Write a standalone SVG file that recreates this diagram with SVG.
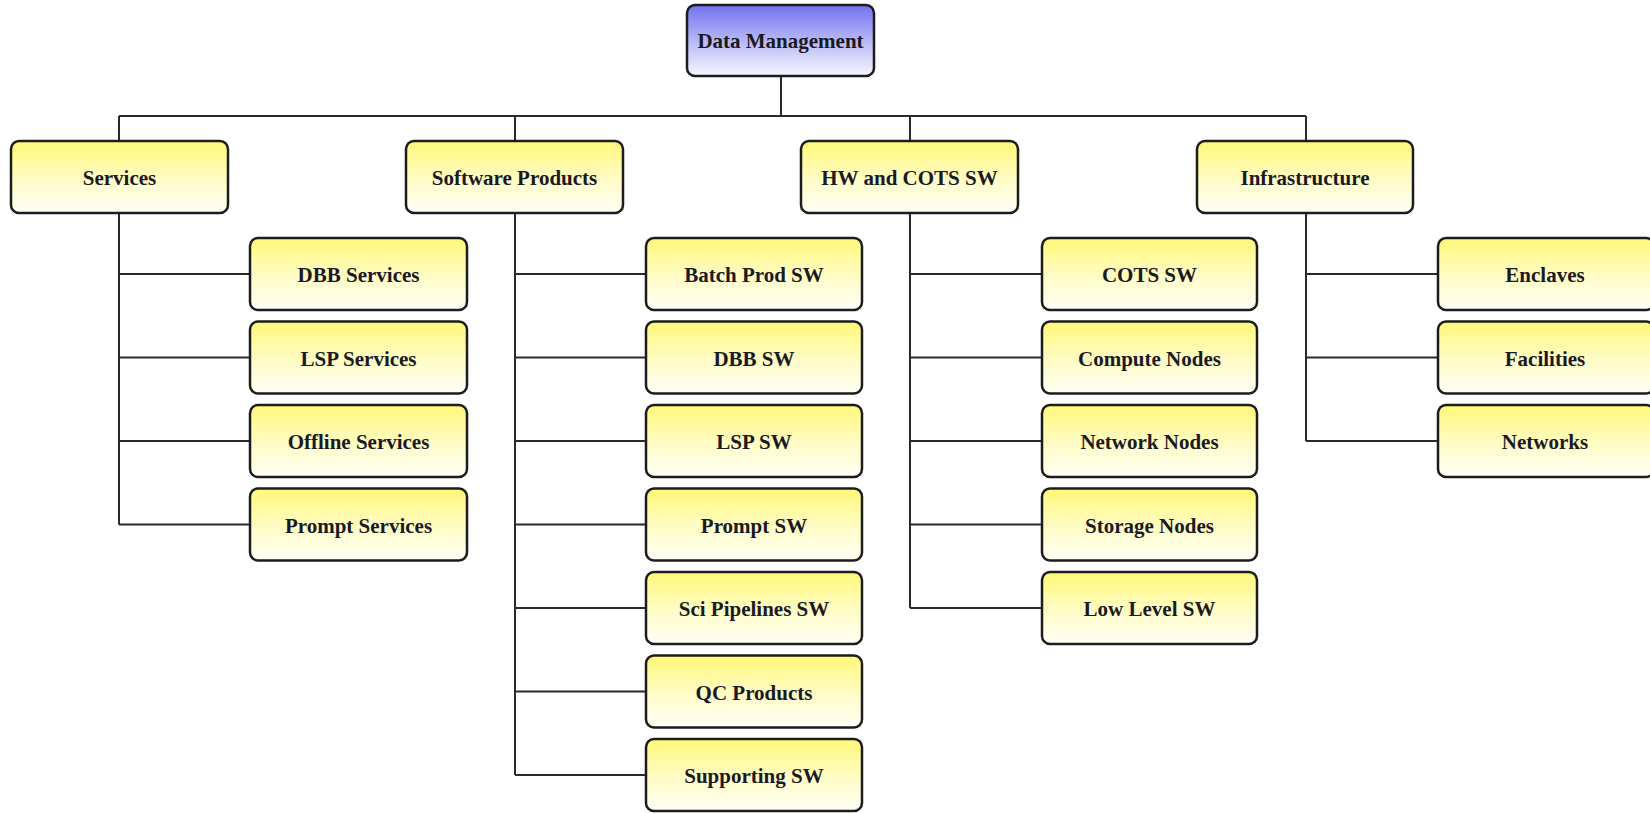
<svg xmlns="http://www.w3.org/2000/svg" width="1650" height="813" viewBox="0 0 1650 813">
  <defs>
    <linearGradient id="gradYellow" x1="0" y1="0" x2="0" y2="1">
      <stop offset="0" stop-color="#FFF877"/>
      <stop offset="0.55" stop-color="#FFFCC8"/>
      <stop offset="1" stop-color="#FFFFF6"/>
    </linearGradient>
    <linearGradient id="gradBlue" x1="0" y1="0" x2="0" y2="1">
      <stop offset="0" stop-color="#7272EE"/>
      <stop offset="0.6" stop-color="#C4C4F8"/>
      <stop offset="1" stop-color="#F6F6FF"/>
    </linearGradient>
    <style>
      .box { fill: url(#gradYellow); stroke: #1c1c1c; stroke-width: 2.5; }
      .root { fill: url(#gradBlue); stroke: #1c1c1c; stroke-width: 2.5; }
      .label { font-family: "Liberation Serif", "Times New Roman", serif; font-weight: bold; font-size: 21px; fill: #1a1a22; text-anchor: middle; }
      .wire { fill: none; stroke: #2a2a2a; stroke-width: 2; }
    </style>
  </defs>
  <rect width="1650" height="813" fill="#ffffff"/>

  <!-- connectors -->
  <g id="connectors" class="wire">
    <path d="M781,76 V116"/>
    <path d="M119,116 H1306"/>
    <path d="M119,116 V141 M515,116 V141 M910,116 V141 M1306,116 V141"/>
    <!-- Services branch -->
    <path d="M119,213 V524.5 M119,274 H250 M119,357.5 H250 M119,441 H250 M119,524.5 H250"/>
    <!-- Software Products branch -->
    <path d="M515,213 V775 M515,274 H646 M515,357.5 H646 M515,441 H646 M515,524.5 H646 M515,608 H646 M515,691.5 H646 M515,775 H646"/>
    <!-- HW and COTS SW branch -->
    <path d="M910,213 V608 M910,274 H1042 M910,357.5 H1042 M910,441 H1042 M910,524.5 H1042 M910,608 H1042"/>
    <!-- Infrastructure branch -->
    <path d="M1306,213 V441 M1306,274 H1438 M1306,357.5 H1438 M1306,441 H1438"/>
  </g>

  <!-- root -->
  <g id="data-management">
    <rect class="root" x="687" y="5" width="187" height="71" rx="8"/>
    <text class="label" x="780.5" y="48">Data Management</text>
  </g>

  <!-- level 1 -->
  <g id="services">
    <rect class="box" x="11" y="141" width="217" height="72" rx="8"/>
    <text class="label" x="119.5" y="185">Services</text>
  </g>
  <g id="software-products">
    <rect class="box" x="406" y="141" width="217" height="72" rx="8"/>
    <text class="label" x="514.5" y="185">Software Products</text>
  </g>
  <g id="hw-cots-sw">
    <rect class="box" x="801" y="141" width="217" height="72" rx="8"/>
    <text class="label" x="909.5" y="185">HW and COTS SW</text>
  </g>
  <g id="infrastructure">
    <rect class="box" x="1197" y="141" width="216" height="72" rx="8"/>
    <text class="label" x="1305" y="185">Infrastructure</text>
  </g>

  <!-- Services children -->
  <g id="dbb-services">
    <rect class="box" x="250" y="238" width="217" height="72" rx="8"/>
    <text class="label" x="358.5" y="282">DBB Services</text>
  </g>
  <g id="lsp-services">
    <rect class="box" x="250" y="321.5" width="217" height="72" rx="8"/>
    <text class="label" x="358.5" y="365.5">LSP Services</text>
  </g>
  <g id="offline-services">
    <rect class="box" x="250" y="405" width="217" height="72" rx="8"/>
    <text class="label" x="358.5" y="449">Offline Services</text>
  </g>
  <g id="prompt-services">
    <rect class="box" x="250" y="488.5" width="217" height="72" rx="8"/>
    <text class="label" x="358.5" y="532.5">Prompt Services</text>
  </g>

  <!-- Software Products children -->
  <g id="batch-prod-sw">
    <rect class="box" x="646" y="238" width="216" height="72" rx="8"/>
    <text class="label" x="754" y="282">Batch Prod SW</text>
  </g>
  <g id="dbb-sw">
    <rect class="box" x="646" y="321.5" width="216" height="72" rx="8"/>
    <text class="label" x="754" y="365.5">DBB SW</text>
  </g>
  <g id="lsp-sw">
    <rect class="box" x="646" y="405" width="216" height="72" rx="8"/>
    <text class="label" x="754" y="449">LSP SW</text>
  </g>
  <g id="prompt-sw">
    <rect class="box" x="646" y="488.5" width="216" height="72" rx="8"/>
    <text class="label" x="754" y="532.5">Prompt SW</text>
  </g>
  <g id="sci-pipelines-sw">
    <rect class="box" x="646" y="572" width="216" height="72" rx="8"/>
    <text class="label" x="754" y="616">Sci Pipelines SW</text>
  </g>
  <g id="qc-products">
    <rect class="box" x="646" y="655.5" width="216" height="72" rx="8"/>
    <text class="label" x="754" y="699.5">QC Products</text>
  </g>
  <g id="supporting-sw">
    <rect class="box" x="646" y="739" width="216" height="72" rx="8"/>
    <text class="label" x="754" y="783">Supporting SW</text>
  </g>

  <!-- HW and COTS SW children -->
  <g id="cots-sw">
    <rect class="box" x="1042" y="238" width="215" height="72" rx="8"/>
    <text class="label" x="1149.5" y="282">COTS SW</text>
  </g>
  <g id="compute-nodes">
    <rect class="box" x="1042" y="321.5" width="215" height="72" rx="8"/>
    <text class="label" x="1149.5" y="365.5">Compute Nodes</text>
  </g>
  <g id="network-nodes">
    <rect class="box" x="1042" y="405" width="215" height="72" rx="8"/>
    <text class="label" x="1149.5" y="449">Network Nodes</text>
  </g>
  <g id="storage-nodes">
    <rect class="box" x="1042" y="488.5" width="215" height="72" rx="8"/>
    <text class="label" x="1149.5" y="532.5">Storage Nodes</text>
  </g>
  <g id="low-level-sw">
    <rect class="box" x="1042" y="572" width="215" height="72" rx="8"/>
    <text class="label" x="1149.5" y="616">Low Level SW</text>
  </g>

  <!-- Infrastructure children -->
  <g id="enclaves">
    <rect class="box" x="1438" y="238" width="216" height="72" rx="8"/>
    <text class="label" x="1545" y="282">Enclaves</text>
  </g>
  <g id="facilities">
    <rect class="box" x="1438" y="321.5" width="216" height="72" rx="8"/>
    <text class="label" x="1545" y="365.5">Facilities</text>
  </g>
  <g id="networks">
    <rect class="box" x="1438" y="405" width="216" height="72" rx="8"/>
    <text class="label" x="1545" y="449">Networks</text>
  </g>
</svg>
